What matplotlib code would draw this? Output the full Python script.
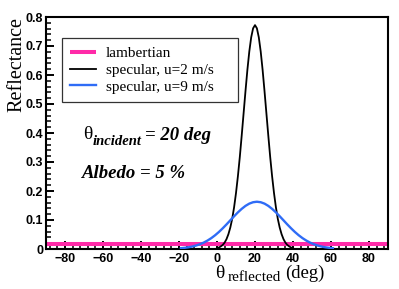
import matplotlib
matplotlib.use('Agg')
import matplotlib.pyplot as plt
from matplotlib.ticker import MultipleLocator, FixedLocator

# lambertian surface, albedo 5 %
lamb_x = [-90, 90]
lamb_y = [0.016, 0.016]

# specular, u=2 m/s (1 deg steps)
spec2_x = list(range(0, 41))
spec2_y = [0.003, 0.005, 0.009, 0.014, 0.022, 0.034, 0.051, 0.074, 0.104, 0.144,
           0.193, 0.251, 0.317, 0.391, 0.468, 0.545, 0.618, 0.681, 0.730, 0.761,
           0.772, 0.761, 0.730, 0.681, 0.618, 0.545, 0.468, 0.391, 0.317, 0.251,
           0.193, 0.144, 0.104, 0.074, 0.051, 0.034, 0.022, 0.014, 0.009, 0.005,
           0.003]

# specular, u=9 m/s (2 deg steps)
spec9_x = list(range(-19, 62, 2))
spec9_y = [0.0028, 0.0041, 0.0060, 0.0085, 0.0120, 0.0164, 0.0221, 0.0291, 0.0375,
           0.0474, 0.0587, 0.0713, 0.0848, 0.0989, 0.1129, 0.1263, 0.1384, 0.1487,
           0.1565, 0.1613, 0.1630, 0.1613, 0.1565, 0.1487, 0.1384, 0.1263, 0.1129,
           0.0989, 0.0848, 0.0713, 0.0587, 0.0474, 0.0375, 0.0291, 0.0221, 0.0164,
           0.0120, 0.0085, 0.0060, 0.0041, 0.0028]

x_ticks = [-80, -60, -40, -20, 0, 20, 40, 60, 80]
y_ticks = [0, 0.1, 0.2, 0.3, 0.4, 0.5, 0.6, 0.7, 0.8]
y_labels = ['0', '0.1', '0.2', '0.3', '0.4', '0.5', '0.6', '0.7', '0.8']

W, H = 399, 289
fig = plt.figure(figsize=(W / 100, H / 100), dpi=100)
ax = fig.add_axes([46 / W, 1 - 249 / H, (388 - 46) / W, (249 - 17) / H])

ax.plot(lamb_x, lamb_y, color='#ff2aa8', lw=2.9, label='lambertian', zorder=2,
        solid_capstyle='butt')
ax.plot(spec2_x, spec2_y, color='black', lw=1.3, label='specular, u=2 m/s', zorder=3)
ax.plot(spec9_x, spec9_y, color='#2f6cf6', lw=1.7, label='specular, u=9 m/s', zorder=3)

ax.set_xlim(-90, 90)
ax.set_ylim(0, 0.8)
ax.xaxis.set_major_locator(FixedLocator(x_ticks))
ax.xaxis.set_minor_locator(MultipleLocator(4))
ax.set_yticks(y_ticks)
ax.set_yticklabels(y_labels)
ax.yaxis.set_minor_locator(MultipleLocator(0.02))

for s in ax.spines.values():
    s.set_linewidth(1.5)
ax.tick_params(which='both', direction='in', top=False, right=False)
ax.tick_params(which='major', length=6, width=1.4)
ax.tick_params(which='minor', length=3.5, width=1.1)
ax.tick_params(axis='x', pad=3)
ax.tick_params(axis='y', pad=2)
for lab in ax.get_xticklabels() + ax.get_yticklabels():
    lab.set_fontfamily('Liberation Sans')
    lab.set_fontweight('bold')
    lab.set_fontsize(9)

leg = ax.legend(loc='upper left', bbox_to_anchor=(16 / 342, 1 - 21 / 232, 176 / 342, 0),
                mode='expand', borderaxespad=0, fancybox=False, frameon=True,
                prop={'family': 'Liberation Serif', 'size': 11},
                handlelength=1.65, handletextpad=0.65, labelspacing=0.2,
                borderpad=0.55)
leg.get_frame().set_edgecolor('black')
leg.get_frame().set_linewidth(0.9)


def ftext(x, y, s, **kw):
    fig.text(x / W, 1 - y / H, s, ha='left', va='baseline', **kw)


serif = 'Liberation Serif'
# y label
fig.text(17 / W, 1 - 65 / H, 'Reflectance', rotation=90, ha='center', va='center',
         family=serif, fontsize=14.5)
# x label
ftext(215, 278, '\u03b8', family=serif, fontsize=14)
ftext(228, 281, 'reflected', family=serif, fontsize=11)
ftext(285, 278, '(deg)', family=serif, fontsize=13.5)
# annotations
ftext(83, 139, '\u03b8', family=serif, fontsize=14)
ftext(93, 145, 'incident', family=serif, fontsize=10.5, weight='bold', style='italic')
ftext(145, 140, '= 20 deg', family=serif, fontsize=13.5, weight='bold', style='italic')
ftext(82, 178, 'Albedo = 5 %', family=serif, fontsize=13.5, weight='bold', style='italic')

fig.savefig('out.png', dpi=100)
